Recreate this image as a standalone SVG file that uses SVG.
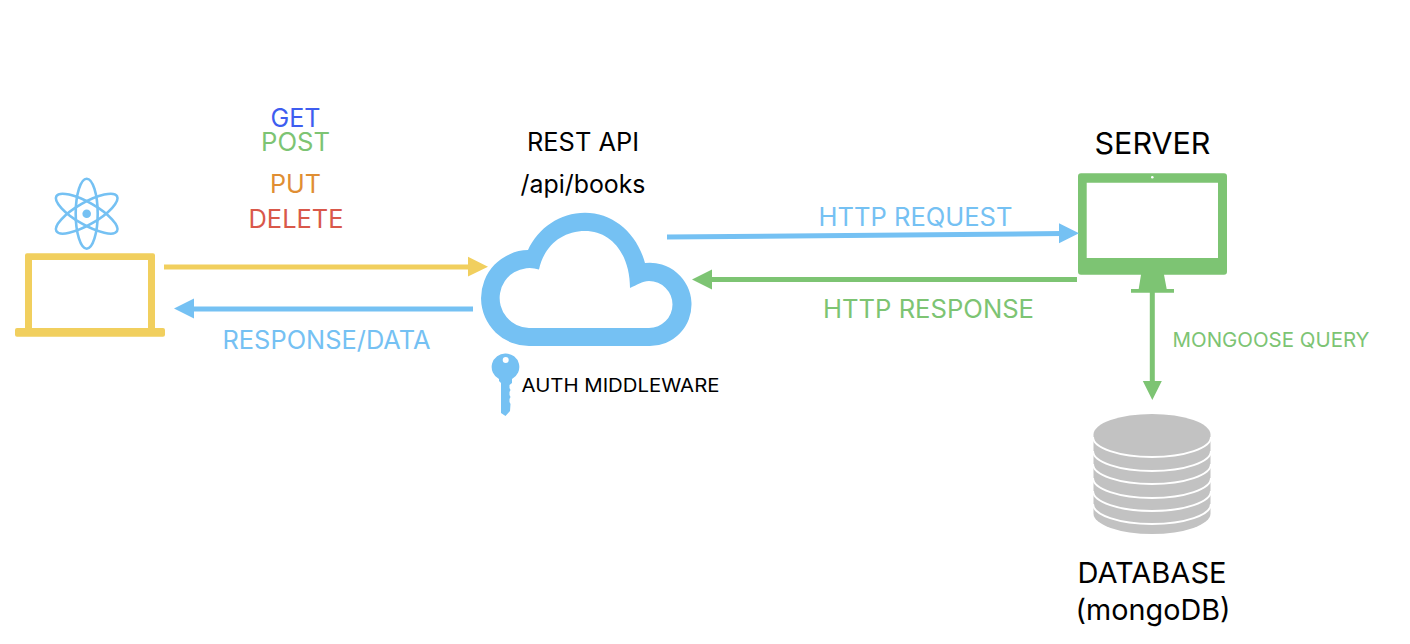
<svg xmlns="http://www.w3.org/2000/svg" width="1410" height="644" viewBox="0 0 1410 644">
<style>
text{font-family:"Inter","Liberation Sans",sans-serif;text-anchor:middle;fill:#000}
.blue{fill:#75c1f3}.green{fill:#7dc473}.yellow{fill:#f1cf5e}.gray{fill:#c2c2c2}
.lb{stroke:#75c1f3;stroke-width:5;fill:none}.lg{stroke:#7dc473;stroke-width:5;fill:none}.ly{stroke:#f1cf5e;stroke-width:5;fill:none}
.orbit{fill:none;stroke:#75c1f3;stroke-width:2.600}
</style>
<rect width="1410" height="644" fill="#fff"/>
<g id="methods">
<text x="295.500" y="127" font-size="25" textLength="50" lengthAdjust="spacingAndGlyphs" style="fill:#3e5df0">GET</text>
<text x="295.500" y="151" font-size="25" textLength="69" lengthAdjust="spacingAndGlyphs" style="fill:#7dc473">POST</text>
<text x="295.500" y="193" font-size="25" textLength="51" lengthAdjust="spacingAndGlyphs" style="fill:#e08e33">PUT</text>
<text x="296" y="228" font-size="25" textLength="95" lengthAdjust="spacingAndGlyphs" style="fill:#d9584a">DELETE</text>
</g>
<g id="client">
<ellipse class="orbit" cx="86.700" cy="213.700" rx="11" ry="35"/>
<ellipse class="orbit" cx="86.700" cy="213.700" rx="11" ry="35" transform="rotate(60 86.700 213.700)"/>
<ellipse class="orbit" cx="86.700" cy="213.700" rx="11" ry="35" transform="rotate(-60 86.700 213.700)"/>
<circle cx="86.700" cy="213.700" r="4.300" class="blue"/>
<path class="yellow" fill-rule="evenodd" d="M27 253.300H153a2 2 0 0 1 2 2V328h8a2 2 0 0 1 2 2v4.700a2 2 0 0 1-2 2H17a2 2 0 0 1-2-2V330a2 2 0 0 1 2-2h8V255.300a2 2 0 0 1 2-2ZM32 260V328H148V260Z"/>
</g>
<g id="api">
<text x="583" y="151" font-size="25" textLength="112" lengthAdjust="spacingAndGlyphs">REST API</text>
<text x="583" y="193" font-size="25" textLength="125" lengthAdjust="spacingAndGlyphs">/api/books</text>
<path class="blue" fill-rule="evenodd" d="M530 346A47.960 47.960 0 0 1 528 250.100C538 228 560 212.700 585 212.700C613 212.700 637 233 645 263.100A41.600 41.600 0 1 1 649 346ZM529 328H649A23.500 23.500 0 0 0 649 281C642 281 637 285 630 288C630 255 612 231 585 231C562 231 544 246 539 269.500A30 30 0 1 0 529 328Z"/>
</g>
<g id="auth">
<path class="blue" fill-rule="evenodd" d="M505.700 353.500A13.500 13.500 0 0 1 512 379V383L509.500 385V388L510.500 390L509.500 392V395L510.500 397L509.500 399V402L510.500 404L510 411L505.500 416L501 413V383L499 381V379A13.500 13.500 0 0 1 505.700 353.500ZM505.700 357A3 3 0 1 0 505.701 363A3 3 0 1 0 505.700 357Z"/>
<text x="620.500" y="392" font-size="19" textLength="198" lengthAdjust="spacingAndGlyphs">AUTH MIDDLEWARE</text>
</g>
<g id="server">
<text x="1152.500" y="154" font-size="30" textLength="116" lengthAdjust="spacingAndGlyphs">SERVER</text>
<path class="green" fill-rule="evenodd" d="M1081 173.300H1224a3 3 0 0 1 3 3V271.700a3 3 0 0 1-3 3H1164L1166.700 289H1174V292.700H1131V289H1138.700L1141 274.700H1081a3 3 0 0 1-3-3V176.300a3 3 0 0 1 3-3ZM1086.700 182.700V258H1218V182.700Z"/>
<circle cx="1152.300" cy="177.300" r="1.300" fill="#fff"/>
</g>
<g id="database">
<path class="gray" d="M1093.500 434.500A58.500 20.500 0 0 1 1210.500 434.500V513.500A58.500 20.500 0 0 1 1093.500 513.500Z"/>
<g fill="none" stroke="#fff" stroke-width="2">
<path d="M1093 437A59 20 0 0 0 1211 437"/>
<path d="M1093 451A59 20 0 0 0 1211 451"/>
<path d="M1093 464A59 20 0 0 0 1211 464"/>
<path d="M1093 478A59 20 0 0 0 1211 478"/>
<path d="M1093 491A59 20 0 0 0 1211 491"/>
<path d="M1093 504A59 20 0 0 0 1211 504"/>
</g>
<text x="1152" y="583" font-size="29" textLength="149" lengthAdjust="spacingAndGlyphs">DATABASE</text>
<text x="1153" y="620" font-size="29" textLength="155" lengthAdjust="spacingAndGlyphs">(mongoDB)</text>
</g>
<g id="connectors">
<path class="ly" d="M164 267H472"/><path class="yellow" d="M488 266.700L468 256.800V276.600Z"/>
<path class="lb" d="M190 309H473"/><path class="blue" d="M174 308.500L194 298.500V318.500Z"/>
<path class="lb" d="M667 237L1063 233.500"/><path class="blue" d="M1079 233.300L1059 223.300V243.300Z"/>
<path class="lg" d="M708 279.500H1077"/><path class="green" d="M692 279.500L712 269.500V289.500Z"/>
<path class="lg" d="M1152.300 292V384"/><path class="green" d="M1152.300 400L1142.800 381H1161.800Z"/>
</g>
<g id="labels">
<text x="326.500" y="349" font-size="25" textLength="208" lengthAdjust="spacingAndGlyphs" style="fill:#75c1f3">RESPONSE/DATA</text>
<text x="915.500" y="226" font-size="25" textLength="194" lengthAdjust="spacingAndGlyphs" style="fill:#75c1f3">HTTP REQUEST</text>
<text x="928.500" y="318" font-size="25" textLength="211" lengthAdjust="spacingAndGlyphs" style="fill:#7dc473">HTTP RESPONSE</text>
<text x="1271" y="347" font-size="20" textLength="197" lengthAdjust="spacingAndGlyphs" style="fill:#7dc473">MONGOOSE QUERY</text>
</g>
</svg>
